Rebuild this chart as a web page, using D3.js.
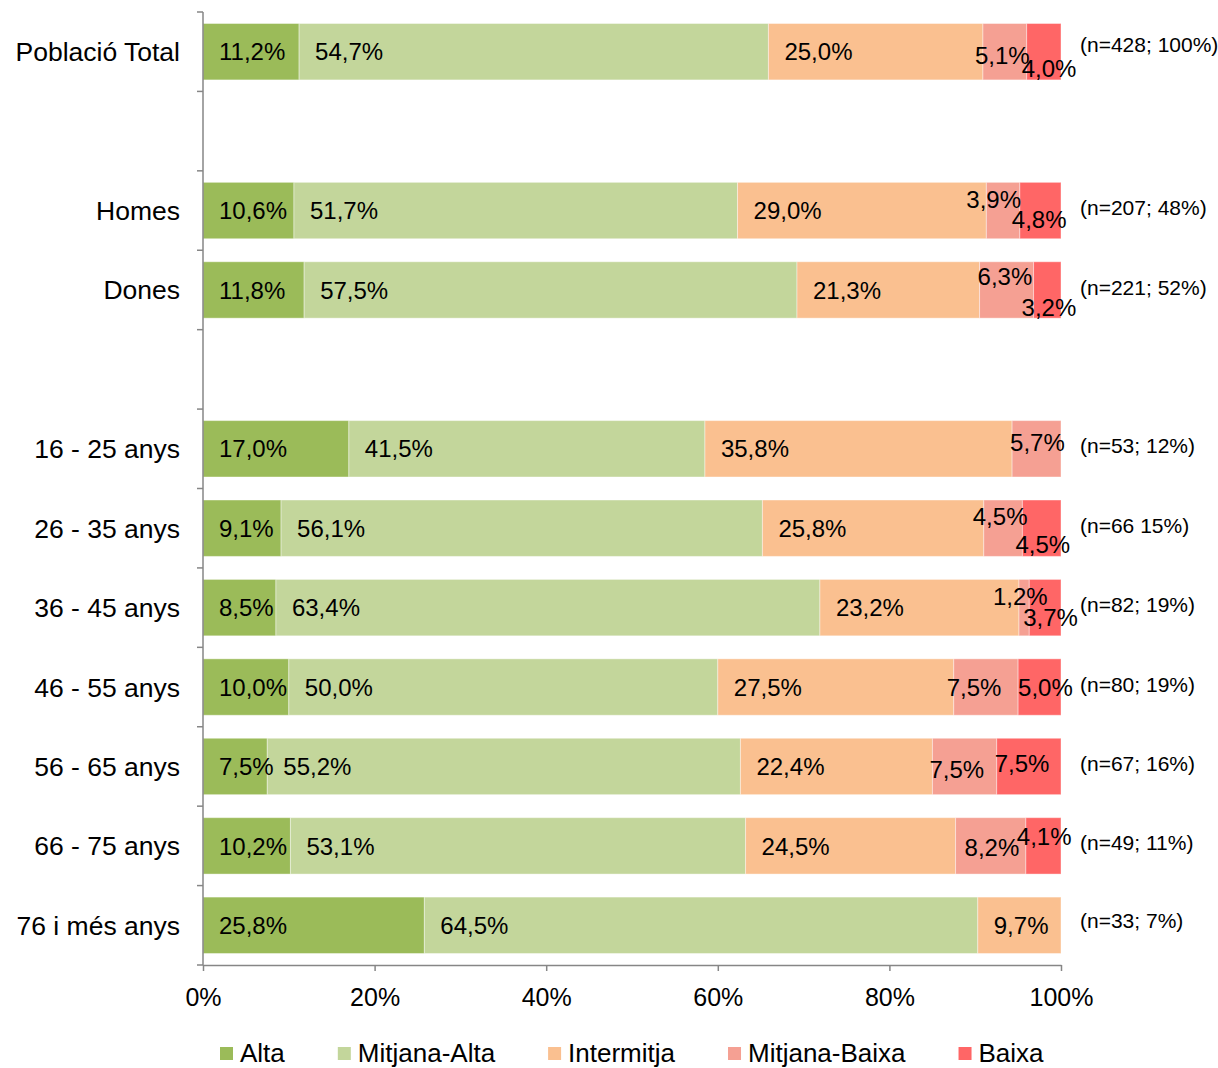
<!DOCTYPE html>
<html>
<head>
<meta charset="utf-8">
<script src="https://cdn.jsdelivr.net/npm/d3@7"></script>
<style>
  body { margin: 0; background: #fff; }
  svg { font-family: "Liberation Sans", Arial, sans-serif; }
</style>
</head>
<body>
<svg width="1218" height="1068"></svg>
<script>
// rows, with blank spacer rows like the original
var categories = ["Població Total", "", "Homes", "Dones", " ", "16 - 25 anys", "26 - 35 anys", "36 - 45 anys", "46 - 55 anys", "56 - 65 anys", "66 - 75 anys", "76 i més anys"];
var series = ["Alta", "Mitjana-Alta", "Intermitja", "Mitjana-Baixa", "Baixa"];
var colors = ["#9BBB59", "#C3D69B", "#FAC090", "#F5A093", "#FF6666"];

var alta         = [11.2, null, 10.6, 11.8, null, 17.0, 9.1, 8.5, 10.0, 7.5, 10.2, 25.8];
var mitjanaAlta  = [54.7, null, 51.7, 57.5, null, 41.5, 56.1, 63.4, 50.0, 55.2, 53.1, 64.5];
var intermitja   = [25.0, null, 29.0, 21.3, null, 35.8, 25.8, 23.2, 27.5, 22.4, 24.5, 9.7];
var mitjanaBaixa = [5.1, null, 3.9, 6.3, null, 5.7, 4.5, 1.2, 7.5, 7.5, 8.2, 0];
var baixa        = [4.0, null, 4.8, 3.2, null, 0, 4.5, 3.7, 5.0, 7.5, 4.1, 0];
var nLabels = ["(n=428; 100%)", "", "(n=207; 48%)", "(n=221; 52%)", "", "(n=53; 12%)", "(n=66 15%)", "(n=82; 19%)", "(n=80; 19%)", "(n=67; 16%)", "(n=49; 11%)", "(n=33; 7%)"];
var xTicks = [0, 0.2, 0.4, 0.6, 0.8, 1];

// hand-moved labels of the two small segments: [dx from segment start, dy from bar centre]
var mbNudge = [[-8, 4], null, [-20, -11], [-2, -14], null, [-2, -6], [-11, -12], [-26, -11], [-7, 0], [-3, 3], [9, 1]];
var bNudge  = [[-5, 17], null, [-8, 9], [-12, 17], null, null, [-7, 16], [-6, 10], [0, 0], [-2, -3], [-9, -10]];

var svg = d3.select("svg");
var plotLeft = 203, plotRight = 1061, plotTop = 12, plotBottom = 965;

var x = d3.scaleLinear().domain([0, 1]).range([plotLeft, plotRight]);
var y = d3.scaleBand().domain(categories).range([plotTop, plotBottom]).paddingInner(0.29).paddingOuter(0.145);
var step = y.step();

var cols = [alta, mitjanaAlta, intermitja, mitjanaBaixa, baixa];
var rows = categories.map(function(c, i) {
  var r = { cat: c };
  series.forEach(function(s, k) { r[s] = cols[k][i] || 0; });
  return r;
}).filter(function(r, i) { return alta[i] != null; });

var stack = d3.stack().keys(series).offset(d3.stackOffsetExpand);
var layers = stack(rows);

var g = svg.append("g");
layers.forEach(function(layer, k) {
  layer.forEach(function(d) {
    var w = x(d[1]) - x(d[0]);
    if (w <= 0) return;
    g.append("rect")
      .attr("x", x(d[0]))
      .attr("y", y(d.data.cat))
      .attr("width", w)
      .attr("height", y.bandwidth())
      .attr("fill", colors[k])
      .attr("stroke", "#fff")
      .attr("stroke-opacity", 0.4)
      .attr("stroke-width", 1);
  });
});

// value labels
layers.forEach(function(layer, k) {
  layer.forEach(function(d) {
    var i = categories.indexOf(d.data.cat);
    var v = cols[k][i];
    if (!v) return;
    var lx = x(d[0]) + 16, ly = y(d.data.cat) + y.bandwidth() / 2;
    var nudge = k == 3 ? mbNudge[i] : (k == 4 ? bNudge[i] : null);
    if (nudge) { lx = x(d[0]) + nudge[0]; ly += nudge[1]; }
    g.append("text")
      .attr("x", lx)
      .attr("y", ly)
      .attr("dy", "0.36em")
      .attr("font-size", 24)
      .attr("fill", "#000")
      .text(v.toFixed(1).replace(".", ",") + "%");
  });
});

// n labels
categories.forEach(function(c, i) {
  if (!nLabels[i]) return;
  var cy = y(c) + y.bandwidth() / 2 - (i == 0 ? 7 : (i == 11 ? 5 : 3));
  svg.append("text")
    .attr("x", 1080)
    .attr("y", cy)
    .attr("dy", "0.36em")
    .attr("font-size", 21)
    .text(nLabels[i]);
});

// category labels
categories.forEach(function(c, i) {
  if (alta[i] == null) return;
  svg.append("text")
    .attr("x", 180)
    .attr("y", y(c) + y.bandwidth() / 2)
    .attr("dy", "0.36em")
    .attr("text-anchor", "end")
    .attr("font-size", 26.5)
    .text(c);
});

// left axis with ticks between rows
var axisColor = "#868686";
svg.append("line").attr("x1", plotLeft).attr("x2", plotLeft).attr("y1", plotTop).attr("y2", plotBottom)
  .attr("stroke", axisColor).attr("stroke-width", 1.5);
d3.range(categories.length + 1).forEach(function(j) {
  var ty = plotTop + j * step;
  svg.append("line").attr("x1", plotLeft - 6).attr("x2", plotLeft).attr("y1", ty).attr("y2", ty)
    .attr("stroke", axisColor).attr("stroke-width", 1.5);
});

// bottom axis
var xAxis = d3.axisBottom(x).tickValues(xTicks).tickSize(6).tickSizeOuter(0).tickPadding(17)
  .tickFormat(d3.format(".0%"));
var ax = svg.append("g").attr("transform", "translate(0," + plotBottom + ")").call(xAxis);
ax.select(".domain").attr("stroke", axisColor).attr("stroke-width", 1.5);
ax.selectAll(".tick line").attr("stroke", axisColor).attr("stroke-width", 1.5);
ax.selectAll(".tick text").attr("font-size", 25).attr("fill", "#000")
  .attr("font-family", "Liberation Sans, Arial, sans-serif");

// legend
var lg = svg.append("g").attr("transform", "translate(220,1053)");
var lx = 0;
series.forEach(function(s, k) {
  lg.append("rect").attr("x", lx).attr("y", -6).attr("width", 13).attr("height", 13).attr("fill", colors[k]);
  var t = lg.append("text").attr("x", lx + 20).attr("y", 0).attr("dy", "0.34em")
    .attr("font-size", 26).text(s);
  lx += 20 + t.node().getComputedTextLength() + 53;
});
</script>
</body>
</html>
